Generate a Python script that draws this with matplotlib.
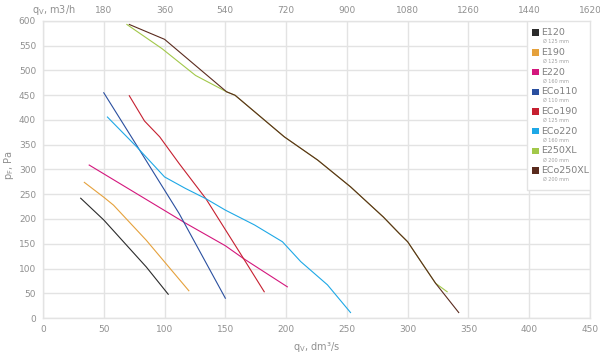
import matplotlib
matplotlib.use('Agg')
import matplotlib.pyplot as plt
from matplotlib.patches import Rectangle

# ---------------- data (qv dm3/s, pF Pa) ----------------
names = ['E120', 'E190', 'E220', 'ECo110', 'ECo190', 'ECo220', 'E250XL', 'ECo250XL']
diams = ['Ø 125 mm', 'Ø 125 mm', 'Ø 160 mm', 'Ø 110 mm', 'Ø 125 mm', 'Ø 160 mm', 'Ø 200 mm', 'Ø 200 mm']
colors = ['#2b2b2b', '#e5a13c', '#d4177d', '#2a4f9f', '#c62030', '#1ea8e6', '#a2c84a', '#5a2b1e']

e120_q = [31, 50, 85, 103]
e120_p = [242, 198, 103, 48]
e190_q = [34, 50, 58, 85, 120]
e190_p = [274, 244, 228, 157, 55]
e220_q = [38, 117, 150, 165, 201]
e220_p = [309, 192, 146, 120, 63]
eco110_q = [50, 77, 112, 150]
eco110_p = [455, 349, 211, 40]
eco190_q = [71, 83.5, 96, 112, 134, 165, 182]
eco190_p = [449, 398, 366, 312, 241, 120, 53]
eco220_q = [53, 77, 100, 117, 134, 150, 174, 197, 212, 234, 253]
eco220_p = [406, 346, 285, 262, 241, 218, 188, 154, 114, 67, 11]
e250_q = [69, 98, 125.5, 151, 158, 198.5, 226, 253, 280, 293, 300, 312, 323, 332.5]
e250_p = [593, 544, 490, 457, 450, 366, 319, 265, 204, 171, 154, 110, 70, 53]
eco250_q = [71, 100, 151, 158, 198.5, 226, 253, 280, 293, 300, 312, 323, 342]
eco250_p = [593, 563, 457, 450, 366, 319, 265, 204, 171, 154, 110, 70, 11]

series = [(e120_q, e120_p), (e190_q, e190_p), (e220_q, e220_p), (eco110_q, eco110_p),
          (eco190_q, eco190_p), (eco220_q, eco220_p), (e250_q, e250_p), (eco250_q, eco250_p)]

x_ticks = [0, 50, 100, 150, 200, 250, 300, 350, 400, 450]
y_ticks = [0, 50, 100, 150, 200, 250, 300, 350, 400, 450, 500, 550, 600]
top_ticks = [180, 360, 540, 720, 900, 1080, 1260, 1440, 1620]

txt = '#909090'
grid = '#e3e3e3'

fig = plt.figure(figsize=(6, 3.53), dpi=100)
ax = fig.add_axes([43 / 600, 1 - 318 / 353, 547 / 600, 297 / 353])

for (q, p), c in zip(series, colors):
    ax.plot(q, p, color=c, lw=0.8, zorder=3)

ax.set_xlim(0, 450)
ax.set_ylim(0, 600)
ax.set_xticks(x_ticks)
ax.set_yticks(y_ticks)
ax.grid(True, color=grid, lw=1.0, zorder=0)
ax.tick_params(length=0, labelsize=6.5, colors=txt, pad=5)
for s in ax.spines.values():
    s.set_color(grid)
    s.set_linewidth(1.0)

# top axis in m3/h
top = ax.secondary_xaxis('top', functions=(lambda x: x * 3.6, lambda x: x / 3.6))
top.set_xticks(top_ticks)
top.tick_params(length=0, labelsize=6.5, colors=txt, pad=4)
top.spines['top'].set_visible(False)
fig.text(32 / 600, 1 - 10 / 353, r'q$_\mathregular{V}$, m3/h', color=txt, fontsize=7, va='center', ha='left')

ax.set_xlabel(r'q$_\mathregular{V}$, dm³/s', color=txt, fontsize=7, labelpad=4)
fig.text(9 / 600, 1 - 165 / 353, r'p$_\mathregular{F}$, Pa', color=txt, fontsize=7,
         rotation=90, va='center', ha='center')

# legend drawn by hand (label + small diameter line)
lx0 = (527 - 43) / 547
ax.add_patch(Rectangle((lx0, 0.43), 1 - lx0, 0.57, transform=ax.transAxes,
                       facecolor='white', edgecolor=grid, lw=1.0, zorder=5))
for i, (n, d, c) in enumerate(zip(names, diams, colors)):
    yp = 32.7 + 19.7 * i
    yf = (318 - yp) / 297
    ax.add_patch(Rectangle(((532 - 43) / 547, yf - 3.2 / 297), 6.5 / 547, 6.5 / 297,
                           transform=ax.transAxes, facecolor=c, edgecolor='none', zorder=6))
    ax.text((541 - 43) / 547, yf, n, transform=ax.transAxes, color='#808080',
            fontsize=6.8, va='center', ha='left', zorder=6)
    ax.text((543 - 43) / 547, yf - 9 / 297, d, transform=ax.transAxes, color='#a0a0a0',
            fontsize=3.5, va='center', ha='left', zorder=6)

fig.savefig('out.png', dpi=100)
